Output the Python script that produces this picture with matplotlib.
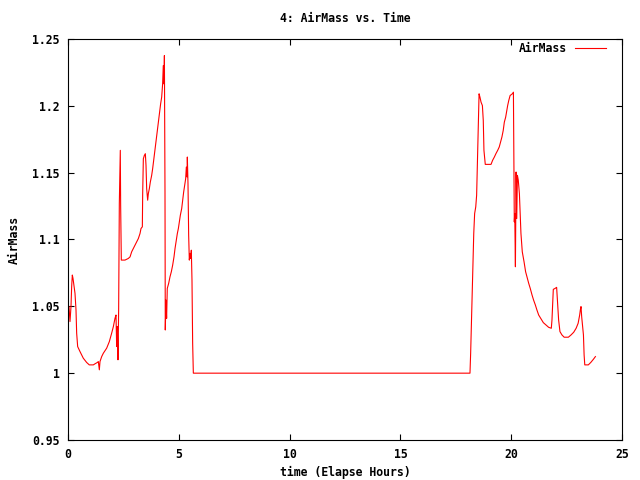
import numpy as np
import matplotlib
matplotlib.use("Agg")
import matplotlib.pyplot as plt

# valeurs (heures écoulées, masse d'air)
t_matin = [0.045, 0.09, 0.135, 0.165, 0.195, 0.226, 0.256, 0.316, 0.361, 0.391,
           0.436, 0.54, 0.69, 0.842, 0.96, 1.143, 1.218, 1.324, 1.369, 1.414,
           1.444, 1.52, 1.594, 1.745, 1.865, 1.97, 2.046, 2.12, 2.166, 2.196,
           2.226, 2.256, 2.286, 2.316, 2.36, 2.376, 2.406, 2.572, 2.72, 2.8,
           2.873, 2.95, 3.024, 3.1, 3.174, 3.25, 3.294, 3.355, 3.37, 3.4,
           3.445, 3.49, 3.52, 3.55, 3.595, 3.625, 3.67, 3.715, 3.776, 3.82,
           3.866, 3.91, 3.956, 4.0, 4.046, 4.09, 4.137, 4.18, 4.227, 4.27,
           4.3, 4.33, 4.35, 4.377, 4.39, 4.42, 4.45, 4.48, 4.543, 4.603,
           4.663, 4.723, 4.784, 4.83, 4.89, 4.934, 4.98, 5.025, 5.07, 5.13,
           5.175, 5.22, 5.265, 5.31, 5.34, 5.37, 5.385, 5.415, 5.445, 5.475,
           5.505, 5.535, 5.565, 5.595, 5.625, 5.656]
am_matin = [1.0498, 1.0386, 1.0498, 1.0647, 1.0734, 1.0709, 1.0672, 1.0597, 1.0473, 1.0299,
            1.0199, 1.0162, 1.0112, 1.008, 1.0062, 1.0062, 1.007, 1.008, 1.0087, 1.0025,
            1.0087, 1.0124, 1.0149, 1.0187, 1.0236, 1.0299, 1.0348, 1.041, 1.0435, 1.0199,
            1.0348, 1.01, 1.0485, 1.1269, 1.1667, 1.1256, 1.0846, 1.0846, 1.0858, 1.087,
            1.0908, 1.0933, 1.0958, 1.0983, 1.1007, 1.1045, 1.1082, 1.1095, 1.1343, 1.1604,
            1.1629, 1.1642, 1.1555, 1.138, 1.1294, 1.1343, 1.138, 1.143, 1.148, 1.153,
            1.1592, 1.1654, 1.1716, 1.1766, 1.1828, 1.189, 1.1953, 1.2015, 1.2065, 1.2164,
            1.2301, 1.2164, 1.2376, 1.1356, 1.0323, 1.0547, 1.041, 1.0634, 1.0672, 1.0721,
            1.0759, 1.0808, 1.0871, 1.0933, 1.0995, 1.1045, 1.1082, 1.1132, 1.1182, 1.1231,
            1.1294, 1.1356, 1.1405, 1.1455, 1.1542, 1.1468, 1.1617, 1.1418, 1.1032, 1.0846,
            1.0896, 1.0858, 1.092, 1.0697, 1.0224, 1.0]

t_soir = [18.14, 18.17, 18.22, 18.26, 18.31, 18.35, 18.4, 18.44, 18.5, 18.55,
          18.59, 18.64, 18.7, 18.74, 18.77, 18.83, 19.09, 19.16, 19.24, 19.31,
          19.39, 19.46, 19.52, 19.58, 19.64, 19.69, 19.75, 19.79, 19.84, 19.89,
          19.95, 20.05, 20.1, 20.11, 20.14, 20.16, 20.19, 20.22, 20.25, 20.28,
          20.32, 20.37, 20.44, 20.5, 20.58, 20.65, 20.73, 20.79, 20.86, 20.94,
          21.01, 21.09, 21.16, 21.24, 21.33, 21.45, 21.57, 21.69, 21.81, 21.84,
          21.9, 21.98, 22.05, 22.08, 22.14, 22.2, 22.29, 22.39, 22.58, 22.7,
          22.82, 22.93, 23.02, 23.09, 23.12, 23.15, 23.18, 23.26, 23.29, 23.32,
          23.48, 23.59, 23.71, 23.8]
am_soir = [1.0, 1.0149, 1.0473, 1.0759, 1.1045, 1.1194, 1.1244, 1.1331, 1.1729, 1.209,
           1.2065, 1.2027, 1.2002, 1.189, 1.1667, 1.1562, 1.1562, 1.1592, 1.1617, 1.1642,
           1.1667, 1.1692, 1.1729, 1.1766, 1.1816, 1.1878, 1.1915, 1.1953, 1.2002, 1.204,
           1.2077, 1.209, 1.2102, 1.1866, 1.1132, 1.1194, 1.0796, 1.1505, 1.1157, 1.148,
           1.1443, 1.1343, 1.1045, 1.0908, 1.0833, 1.0759, 1.0709, 1.0672, 1.0634, 1.0585,
           1.0547, 1.051, 1.0473, 1.0435, 1.041, 1.0378, 1.0361, 1.0343, 1.0336, 1.0398,
           1.0627, 1.0634, 1.0642, 1.056, 1.0398, 1.0311, 1.0286, 1.0269, 1.0269, 1.0286,
           1.0306, 1.0336, 1.0373, 1.0435, 1.0473, 1.0498, 1.0423, 1.0286, 1.0137, 1.0062,
           1.0062, 1.008, 1.0104, 1.0124]

t = t_matin + t_soir
airmass = am_matin + am_soir

x_ticks = [0, 5, 10, 15, 20, 25]
y_ticks = [0.95, 1, 1.05, 1.1, 1.15, 1.2, 1.25]
y_labels = ["0.95", "1", "1.05", "1.1", "1.15", "1.2", "1.25"]

plt.rcParams['font.family'] = ['DejaVu Sans Mono']
plt.rcParams['font.weight'] = 'bold'
plt.rcParams['font.size'] = 8.3

fig = plt.figure(figsize=(6.4, 4.8), dpi=100)
ax = fig.add_axes([68/640, 40/480, 554/640, 401/480])
ax.plot(t, airmass, color="#ff0000", linewidth=0.8, label="AirMass")

ax.set_xlim(0, 25)
ax.set_ylim(0.95, 1.25)
ax.set_xticks(x_ticks)
ax.set_xticklabels([str(v) for v in x_ticks])
ax.set_yticks(y_ticks)
ax.set_yticklabels(y_labels)
ax.tick_params(direction="in", length=4, width=0.8, top=True, right=True, pad=6)
for s in ax.spines.values():
    s.set_linewidth(0.8)

ax.set_title("4: AirMass vs. Time", fontsize=8.3, fontweight="bold", pad=12)
ax.set_xlabel("time (Elapse Hours)", fontweight="bold", labelpad=3)
ax.set_ylabel("AirMass", fontweight="bold", labelpad=8)
ax.legend(loc="upper right", bbox_to_anchor=(0.979, 1.004), frameon=False,
          markerfirst=False, handlelength=2.7, borderaxespad=0, handletextpad=0.7)

fig.savefig("out.png", dpi=100)
